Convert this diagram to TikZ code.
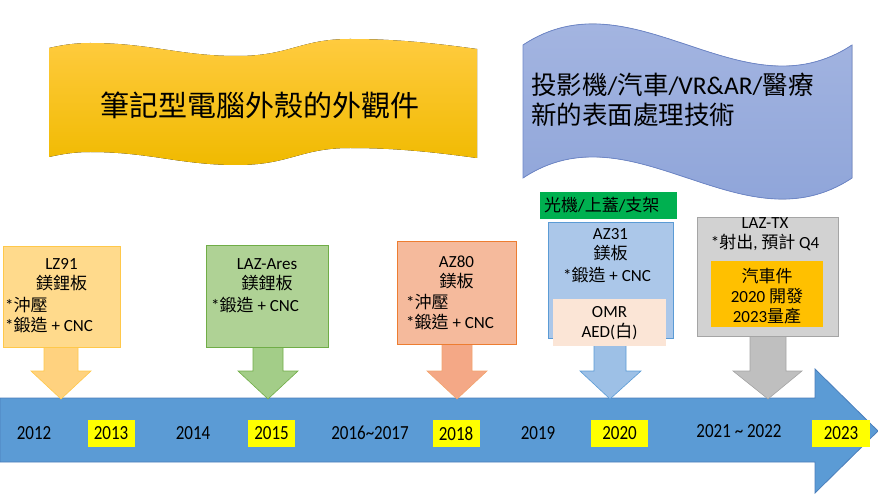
\documentclass[tikz,border=0pt]{standalone}
\usepackage{fontspec}
\setmainfont{Carlito}
\newfontfamily\cjk{Noto Sans CJK TC}
\usetikzlibrary{positioning}
\definecolor{wavetop}{HTML}{FFCB3F}
\definecolor{wavebot}{HTML}{F0BA00}
\definecolor{skytop}{HTML}{A9B9E3}
\definecolor{skybot}{HTML}{8AA1D7}
\definecolor{skyline}{HTML}{6F88C9}
\definecolor{axisblue}{HTML}{5B9BD5}
\definecolor{axisline}{HTML}{4A7EBB}
\definecolor{lzfill}{HTML}{FFDA8C}
\definecolor{lzline}{HTML}{FFC84A}
\definecolor{lzarrow}{HTML}{FFD27F}
\definecolor{aresfill}{HTML}{AFD295}
\definecolor{aresline}{HTML}{70AD47}
\definecolor{aresarrow}{HTML}{A3CD88}
\definecolor{azeightyfill}{HTML}{F5BA9C}
\definecolor{azeightyline}{HTML}{ED7D31}
\definecolor{azeightyarrow}{HTML}{F4A886}
\definecolor{azthirtyfill}{HTML}{ABC7E9}
\definecolor{azthirtyline}{HTML}{5B9BD5}
\definecolor{azthirtyarrow}{HTML}{9DC0E6}
\definecolor{omrfill}{HTML}{FBE5D6}
\definecolor{txfill}{HTML}{D2D2D2}
\definecolor{txline}{HTML}{A5A5A5}
\definecolor{txarrow}{HTML}{BFBFBF}
\definecolor{carfill}{HTML}{FFC000}
\definecolor{tagfill}{HTML}{00B050}
\definecolor{yearfill}{HTML}{FFFF00}
\newcommand\yr[1]{\scalebox{0.85}[1]{#1}}

\begin{document}
\begin{tikzpicture}[x=1pt, y=-1pt]
  \tikzset{
    card/.style={line width=0.8pt, inner sep=0pt},
    cardtext/.style={font=\fontsize{17}{20}\selectfont, inner sep=0pt, align=center},
    yearlabel/.style={font=\fontsize{20}{24}\selectfont, inner sep=0pt},
    yearbox/.style={yearlabel, fill=yearfill, minimum width=47, minimum height=27}
  }
  \useasboundingbox (0,0) rectangle (878,494);

  % Yellow wave banner
  \fill[top color=wavetop, bottom color=wavebot]
    (49,48) .. controls (62,45) and (75,43) .. (90,43)
    .. controls (150,43) and (180,56) .. (237,56)
    .. controls (290,56) and (300,39) .. (350,39)
    .. controls (400,39) and (440,44) .. (477,49)
    -- (477,158)
    .. controls (440,153) and (400,148) .. (350,148)
    .. controls (300,148) and (290,165) .. (237,165)
    .. controls (180,165) and (150,152) .. (90,152)
    .. controls (75,152) and (62,154) .. (49,157) -- cycle;
  \node[font=\fontsize{29}{34}\selectfont\cjk] (laptop) at (260,105) {筆記型電腦外殼的外觀件};

  % Blue wave banner
  \filldraw[top color=skytop, bottom color=skybot, draw=skyline, line width=0.8pt]
    (523,45) .. controls (633,-28) and (742,118) .. (852,45)
    -- (852,178)
    .. controls (742,251) and (633,105) .. (523,178) -- cycle;
  \node[font=\fontsize{25.5}{30}\selectfont, align=left, anchor=west, inner sep=0pt] (surface) at (531,100)
    {{\cjk 投影機}/{\cjk 汽車}/VR\&AR/{\cjk 醫療}\\{\cjk 新的表面處理技術}};

  % Timeline arrow
  \filldraw[fill=axisblue, draw=axisline, line width=0.8pt]
    (0,398) -- (815,398) -- (815,369) -- (878,431) -- (815,493) -- (815,462) -- (0,462) -- cycle;

  % Down arrows
  \filldraw[fill=lzarrow, draw=lzline, line width=0.6pt]
    (44,347) -- (78,347) -- (78,371) -- (91,371) -- (61,399) -- (31,371) -- (44,371) -- cycle;
  \filldraw[fill=aresarrow, draw=aresline, line width=0.6pt]
    (253,347) -- (283,347) -- (283,371) -- (298,371) -- (268,399) -- (238,371) -- (253,371) -- cycle;
  \filldraw[fill=azeightyarrow, draw=azeightyline!70, line width=0.6pt]
    (442,344) -- (472,344) -- (472,371) -- (487,371) -- (457,399) -- (427,371) -- (442,371) -- cycle;
  \filldraw[fill=azthirtyarrow, draw=azthirtyline, line width=0.6pt]
    (594,338) -- (626,338) -- (626,371) -- (641,371) -- (610,399) -- (580,371) -- (594,371) -- cycle;
  \filldraw[fill=txarrow, draw=txline, line width=0.6pt]
    (750,336) -- (786,336) -- (786,371) -- (802,371) -- (768,399) -- (733,371) -- (750,371) -- cycle;

  % LZ91
  \node[card, draw=lzline, fill=lzfill, minimum width=117, minimum height=101] (lz91) at (61.5,296.5) {};
  \node[cardtext] (lz91t) at (61.5,275) {LZ91\\{\cjk 鎂鋰板}};
  \node[cardtext, align=left, anchor=west] (lz91p) at (5,315) {*{\cjk 沖壓}\\*{\cjk 鍛造} + CNC};

  % LAZ-Ares
  \node[card, draw=aresline, fill=aresfill, minimum width=122, minimum height=102] (ares) at (267,296) {};
  \node[cardtext] (arest) at (267,275) {LAZ-Ares\\{\cjk 鎂鋰板}};
  \node[cardtext, anchor=west] (aresp) at (211,305) {*{\cjk 鍛造} + CNC};

  % AZ80
  \node[card, draw=azeightyline, fill=azeightyfill, minimum width=119, minimum height=103] (az80) at (456.5,292.5) {};
  \node[cardtext] (az80t) at (456.5,272) {AZ80\\{\cjk 鎂板}};
  \node[cardtext, align=left, anchor=west] (az80p) at (406,312.5) {*{\cjk 沖壓}\\*{\cjk 鍛造} + CNC};

  % AZ31
  \node[card, fill=tagfill, minimum width=137, minimum height=27] (tag) at (608.5,205.5) {};
  \node[cardtext, anchor=west] (tagt) at (544,205.5) {{\cjk 光機}/{\cjk 上蓋}/{\cjk 支架}};
  \node[card, draw=azthirtyline, fill=azthirtyfill, minimum width=125, minimum height=116] (az31) at (610.5,280) {};
  \node[cardtext] (az31t) at (610.5,245) {AZ31\\{\cjk 鎂板}};
  \node[cardtext] (az31p) at (607,275) {*{\cjk 鍛造} + CNC};
  \node[card, fill=omrfill, minimum width=113, minimum height=47] (omr) at (609.5,322.5) {};
  \node[cardtext] (omrt) at (609.5,323) {OMR\\AED({\cjk 白})};

  % LAZ-TX
  \node[card, draw=txline, fill=txfill, minimum width=141, minimum height=119] (laztx) at (767.5,276.5) {};
  \node[cardtext] (laztxt) at (765,234.5) {LAZ-TX\\*{\cjk 射出}, {\cjk 預計} Q4};
  \node[card, fill=carfill, minimum width=112, minimum height=66] (car) at (767,294) {};
  \node[cardtext] (cart) at (767,296) {{\cjk 汽車件}\\2020 {\cjk 開發}\\2023{\cjk 量產}};

  % Years
  \node[yearlabel] (y2012) at (34,433) {\yr{2012}};
  \node[yearbox] (y2013) at (111,433.5) {\yr{2013}};
  \node[yearlabel] (y2014) at (193,433) {\yr{2014}};
  \node[yearbox] (y2015) at (271.5,433.5) {\yr{2015}};
  \node[yearlabel] (y2016) at (370,433) {\yr{2016\textasciitilde 2017}};
  \node[yearbox] (y2018) at (456,433.5) {\yr{2018}};
  \node[yearlabel] (y2019) at (538,433) {\yr{2019}};
  \node[yearbox, minimum width=57] (y2020) at (619.5,433.5) {\yr{2020}};
  \node[yearlabel] (y2021) at (739,431) {\yr{2021 \textasciitilde\ 2022}};
  \node[yearbox, minimum width=58] (y2023) at (841,433.5) {\yr{2023}};

\end{tikzpicture}
\end{document}
